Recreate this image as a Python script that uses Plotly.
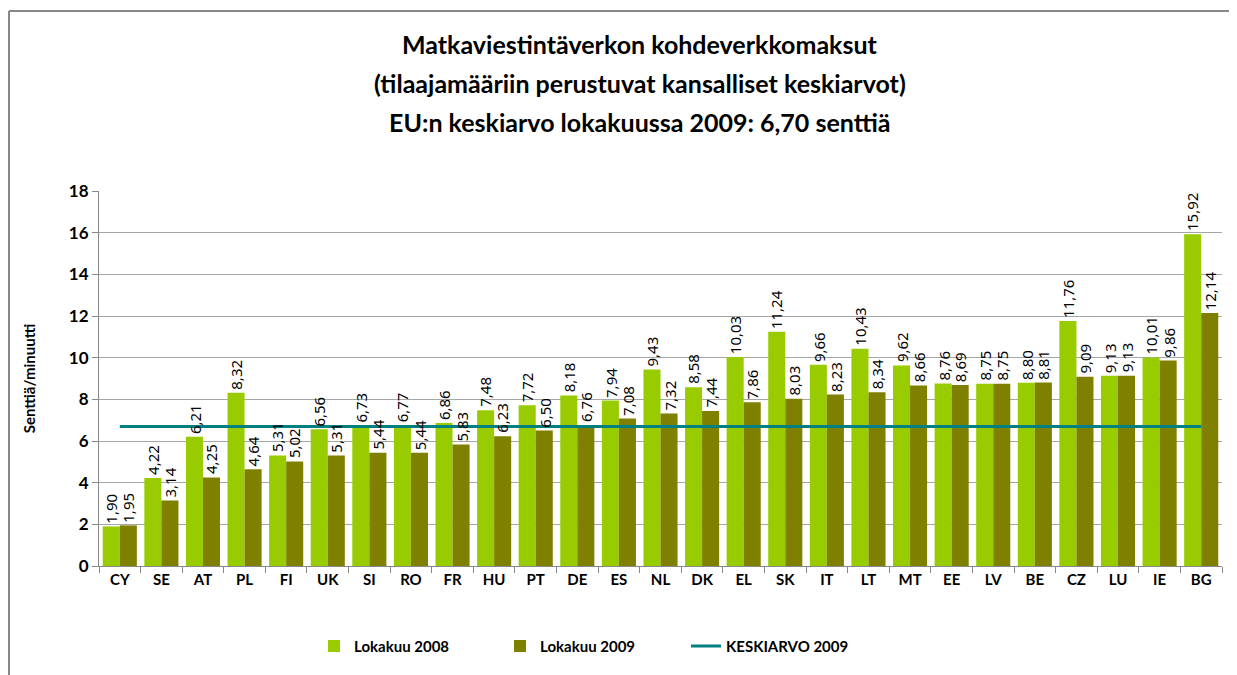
import plotly.graph_objects as go

# Maat ja arvot (senttiä/minuutti)
countries = ["CY", "SE", "AT", "PL", "FI", "UK", "SI", "RO", "FR", "HU", "PT", "DE", "ES", "NL",
             "DK", "EL", "SK", "IT", "LT", "MT", "EE", "LV", "BE", "CZ", "LU", "IE", "BG"]
oct_2008 = [1.90, 4.22, 6.21, 8.32, 5.31, 6.56, 6.73, 6.77, 6.86, 7.48, 7.72, 8.18, 7.94, 9.43,
            8.58, 10.03, 11.24, 9.66, 10.43, 9.62, 8.76, 8.75, 8.80, 11.76, 9.13, 10.01, 15.92]
oct_2009 = [1.95, 3.14, 4.25, 4.64, 5.02, 5.31, 5.44, 5.44, 5.83, 6.23, 6.50, 6.76, 7.08, 7.32,
            7.44, 7.86, 8.03, 8.23, 8.34, 8.66, 8.69, 8.75, 8.81, 9.09, 9.13, 9.86, 12.14]
eu_avg_2009 = 6.70
title_lines = [
    "Matkaviestintäverkon kohdeverkkomaksut",
    "(tilaajamääriin perustuvat kansalliset keskiarvot)",
    "EU:n keskiarvo lokakuussa 2009: 6,70 senttiä",
]

FONT = "Lato"
label_font = dict(family="Noto Sans", size=15, color="#000000")

# plot area in page pixels (page body has an 8 px margin)
FIG_W, FIG_H = 1229, 667
L, T, W, H = 91, 183, 1123, 375
BARGAP = 0.18
bar_px = W / len(countries) * (1 - BARGAP) / 2

fig = go.Figure()

fig.add_trace(go.Bar(
    x=countries, y=oct_2008, name="Lokakuu 2008",
    marker=dict(color="#99CC00", line=dict(width=0)),
))
fig.add_trace(go.Bar(
    x=countries, y=oct_2009, name="Lokakuu 2009",
    marker=dict(color="#808000", line=dict(width=0)),
))
fig.add_trace(go.Scatter(
    x=countries, y=[eu_avg_2009] * len(countries), name="KESKIARVO 2009",
    mode="lines", line=dict(color="#008080", width=3),
))

annotations = []
# arvotunnisteet pylväiden päälle (viivan yläpuolelle)
for values, side in ((oct_2008, -1), (oct_2009, 1)):
    for c, v in zip(countries, values):
        annotations.append(dict(
            x=c, y=v, xref="x", yref="y", text=f"{v:.2f}".replace(".", ","),
            textangle=-90, showarrow=False, xanchor="center", yanchor="bottom",
            xshift=side * bar_px / 2, yshift=1, font=label_font,
        ))

# otsikko kolmena rivinä
for i, line in enumerate(title_lines):
    y_px = 44 + 39 * i - 8
    annotations.append(dict(
        text=line, xref="paper", yref="paper",
        x=(640 - 8 - L) / W, y=1 + (T - y_px) / H,
        xanchor="center", yanchor="middle", showarrow=False,
        font=dict(family=FONT, size=25, color="#000000", weight="bold"),
    ))

# kaavion reunus (vain vasen ja ylä näkyvissä)
border = dict(color="#888888", width=2)
x_left = (1 - L) / W
y_top = 1 + (T - 3) / H

fig.update_layout(
    width=FIG_W, height=FIG_H,
    separators=",.",
    barmode="group", bargap=BARGAP, bargroupgap=0,
    paper_bgcolor="white", plot_bgcolor="white",
    margin=dict(l=L, r=FIG_W - L - W, t=T, b=FIG_H - T - H, autoexpand=False),
    font=dict(family=FONT, color="#000000"),
    annotations=annotations,
    legend=dict(
        orientation="h", x=215 / W, xanchor="left", y=-0.17, yanchor="top",
        font=dict(family=FONT, size=15, color="#000000", weight="bold"),
        traceorder="normal", entrywidth=141, entrywidthmode="pixels",
    ),
    shapes=[
        dict(type="line", xref="paper", yref="paper", x0=x_left, x1=1.1,
             y0=y_top, y1=y_top, line=border, layer="below"),
        dict(type="line", xref="paper", yref="paper", x0=x_left, x1=x_left,
             y0=-0.5, y1=y_top, line=border, layer="below"),
    ],
)

fig.update_xaxes(
    type="category", tickson="boundaries", ticks="outside", ticklen=6,
    tickcolor="#888888", showline=True, linecolor="#888888", linewidth=1,
    tickfont=dict(family=FONT, size=15, color="#000000", weight="bold"),
    automargin=False,
)
fig.update_yaxes(
    range=[0, 18], dtick=2, ticks="outside", ticklen=6, tickcolor="#888888",
    showline=True, linecolor="#888888", linewidth=1,
    showgrid=True, gridcolor="#A6A6A6", gridwidth=1,
    tickfont=dict(family=FONT, size=17, color="#000000", weight="bold"),
    title=dict(text="Senttiä/minuutti",
               font=dict(family=FONT, size=15, weight="bold"), standoff=29),
    zeroline=False, automargin=False,
)

fig.write_html("out.html")
